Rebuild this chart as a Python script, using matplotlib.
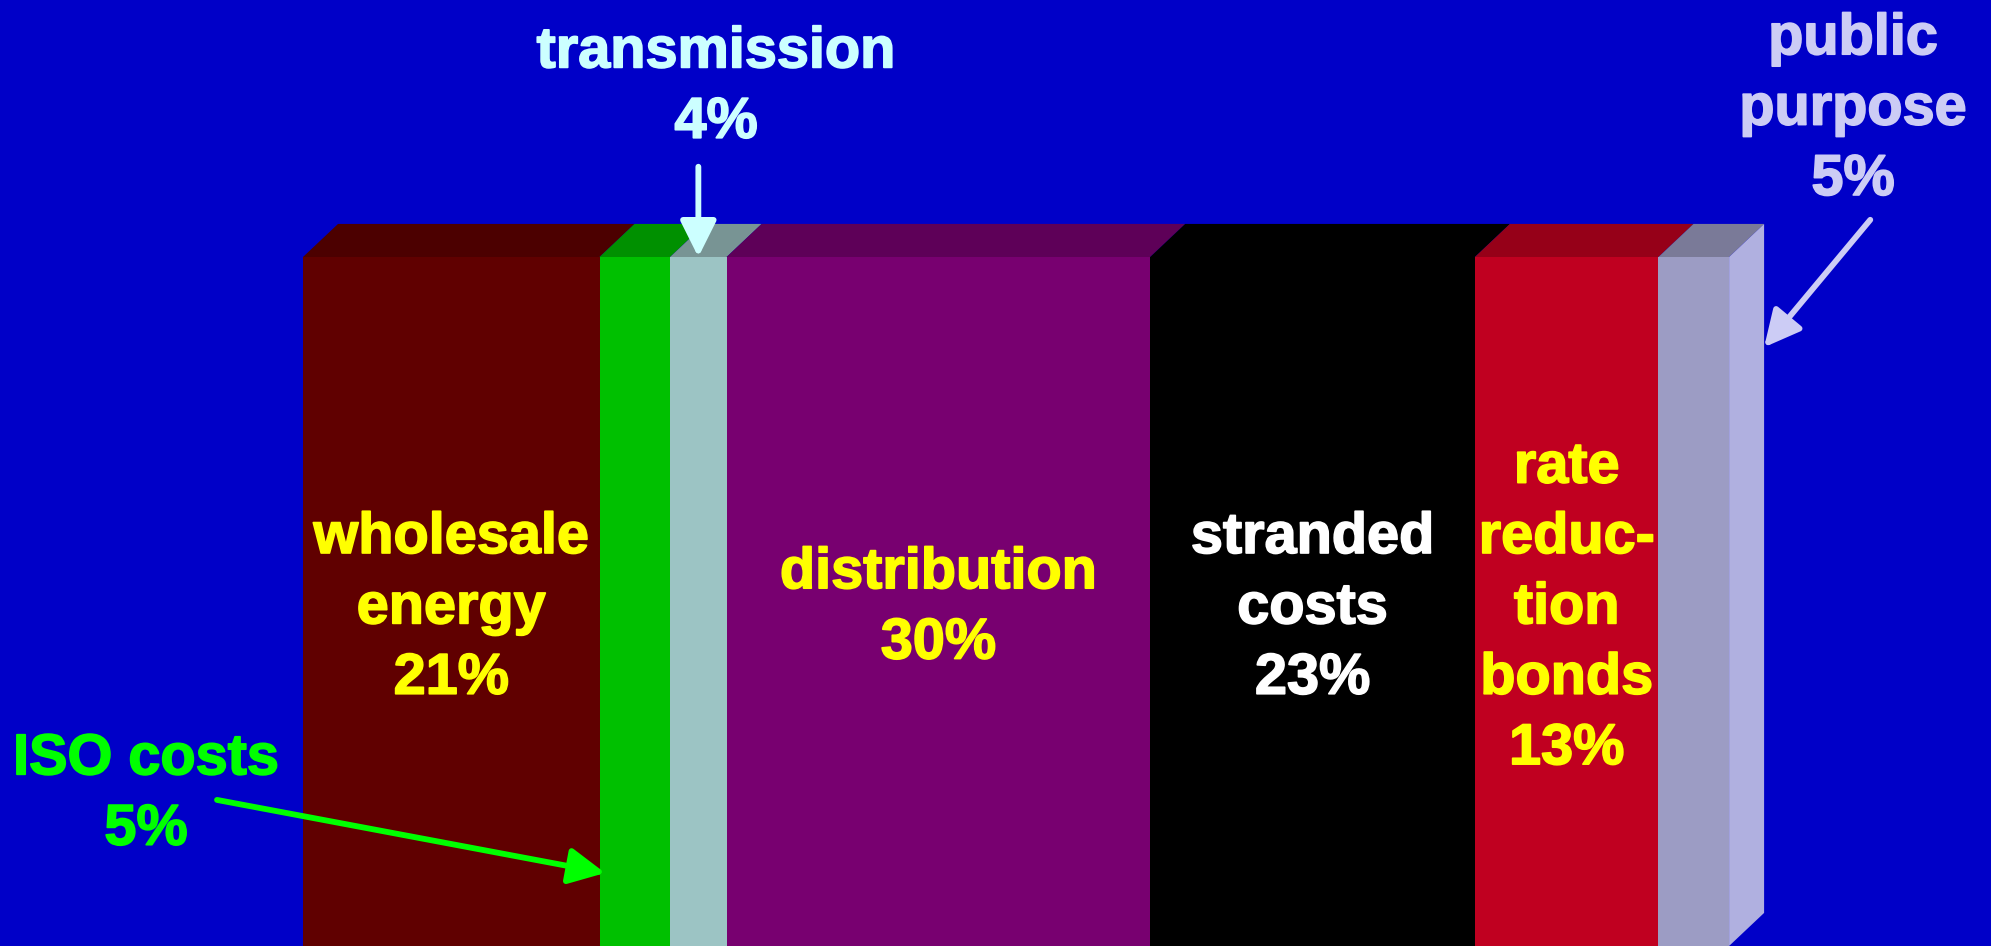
import numpy as np
import matplotlib.pyplot as plt
import matplotlib.patheffects as pe
from matplotlib.patches import Polygon

# Breakdown of a retail electricity bill, shares in percent
segments = ['wholesale\nenergy', 'ISO costs', 'transmission', 'distribution',
            'stranded\ncosts', 'rate\nreduc-\ntion\nbonds', 'public\npurpose']
shares = [21, 5, 4, 30, 23, 13, 5]

front_colors = ['#600000', '#00c000', '#9cc4c4', '#780070',
                '#000000', '#c00020', '#9c9cc4']
top_colors = ['#4c0000', '#009000', '#789494', '#5e0058',
              '#000000', '#960018', '#7a7a98']
side_color = '#b0b0e0'

# text colour per segment; segments labelled inside the slab vs. with callouts
text_colors = ['#ffff00', '#00ff00', '#ccffff', '#ffff00',
               '#ffffff', '#ffff00', '#ccccf5']
inside = [True, False, False, True, True, True, False]

BG = '#0000c8'
FONT = dict(family='Liberation Sans', weight='bold', fontsize=41.5, linespacing=1.39)

depth_x, depth_y = 2.48, 0.048   # oblique offset of the slab's back edge

fig = plt.figure(figsize=(19.91, 9.46), dpi=100, facecolor=BG)
ax = fig.add_axes([0, 0, 1, 1])
ax.set_xlim(-21.46, 119.55)
ax.set_ylim(0, 1.373)
ax.axis('off')

lefts = np.concatenate([[0], np.cumsum(shares)[:-1]])
total = float(np.sum(shares))

# front faces
ax.bar(lefts, 1.0, width=shares, align='edge', color=front_colors,
       linewidth=0, zorder=2)

# top faces
for x0, w, c in zip(lefts, shares, top_colors):
    x1 = x0 + w
    ax.add_patch(Polygon([(x0, 1), (x1, 1), (x1 + depth_x, 1 + depth_y),
                          (x0 + depth_x, 1 + depth_y)], closed=True,
                         facecolor=c, edgecolor='none', zorder=2))

# right-hand side face
ax.add_patch(Polygon([(total, 0), (total + depth_x, depth_y),
                      (total + depth_x, 1 + depth_y), (total, 1)], closed=True,
                     facecolor=side_color, edgecolor='none', zorder=2))


def heavy(c):
    # thicken the glyphs a little with an outline in the same colour
    return [pe.Stroke(linewidth=1.2, foreground=c), pe.Normal()]


# labels inside the slab
for x0, w, name, share, c, ins in zip(lefts, shares, segments, shares,
                                      text_colors, inside):
    if ins:
        ax.text(x0 + w / 2, 0.49, f'{name}\n{share}%', color=c,
                ha='center', va='center', zorder=4, path_effects=heavy(c),
                **FONT)


def callout(i, text_xy, tail, tip):
    # text_xy is the baseline of the percentage line
    c = text_colors[i]
    ax.text(*text_xy, f'{segments[i]}\n{shares[i]}%', color=c, ha='center',
            va='baseline', zorder=4, path_effects=heavy(c), **FONT)
    ax.annotate('', xy=tip, xytext=tail, zorder=5,
                arrowprops=dict(arrowstyle='-|>,head_length=22,head_width=11',
                                mutation_scale=1, lw=4.2, color=c,
                                shrinkA=0, shrinkB=0))


# ISO costs, pointing at the green strip from the left
callout(1, (-11.12, 0.147), (-6.09, 0.212), (lefts[1] + 0.4, 0.106))
# transmission, pointing down at the slab top
callout(2, (29.25, 1.173), (lefts[2] + shares[2] / 2, 1.131),
        (lefts[2] + shares[2] / 2, 1.0))
# public purpose, pointing at the side face
callout(6, (109.78, 1.090), (111.0, 1.054), (total + depth_x, 0.869))

fig.savefig('out.png', dpi=100, facecolor=BG)
